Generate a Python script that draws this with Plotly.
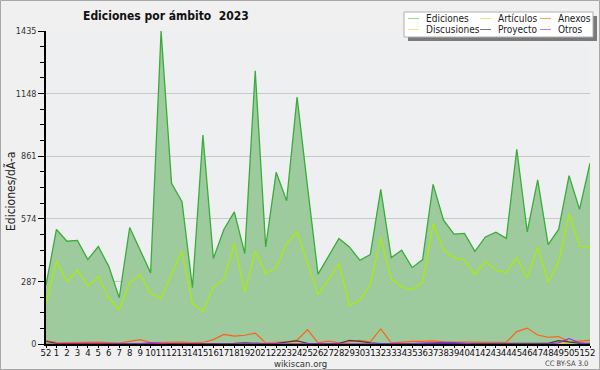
import plotly.graph_objects as go

weeks = ["52"] + [str(i) for i in range(1, 53)]

ediciones = [270, 525, 471, 475, 387, 447, 356, 212, 534, 430, 326, 1435, 737, 652, 258, 958,
             392, 525, 606, 415, 1253, 445, 787, 657, 1132, 720, 320, 402, 484, 445, 384, 410,
             709, 396, 430, 350, 387, 732, 568, 504, 507, 425, 491, 513, 484, 893, 514, 752,
             456, 525, 772, 617, 829]
articulos = [185, 380, 287, 338, 264, 310, 211, 157, 280, 318, 231, 208, 323, 425, 185, 150,
             261, 297, 461, 238, 425, 323, 350, 461, 514, 375, 226, 292, 369, 177, 200, 272,
             488, 300, 261, 249, 284, 550, 430, 395, 384, 318, 380, 338, 327, 396, 303, 445,
             284, 376, 596, 449, 443]
anexos = [15, 8, 6, 7, 10, 9, 6, 4, 12, 20, 6, 8, 10, 9, 6, 7,
          20, 44, 36, 40, 50, 5, 8, 10, 18, 66, 5, 13, 5, 10, 17, 10,
          69, 5, 10, 12, 12, 14, 10, 9, 8, 8, 8, 8, 8, 57, 73, 41,
          31, 34, 10, 14, 17]
discusiones = [3, 2, 2, 2, 2, 2, 2, 3, 2, 2, 2, 2, 2, 2, 2, 2,
               2, 2, 2, 2, 2, 2, 3, 6, 10, 3, 2, 2, 2, 2, 2, 2,
               2, 2, 2, 2, 2, 2, 2, 2, 2, 2, 2, 2, 2, 2, 2, 2,
               2, 3, 10, 3, 3]
proyecto = [12, 3, 2, 2, 3, 2, 2, 1, 2, 2, 1, 2, 2, 2, 2, 2,
            2, 2, 3, 5, 2, 2, 3, 8, 14, 3, 1, 2, 2, 17, 12, 5,
            2, 2, 2, 2, 2, 3, 3, 3, 2, 2, 2, 2, 5, 5, 2, 2,
            3, 15, 10, 3, 3]
otros = [0, 0, 0, 0, 0, 0, 0, 0, 0, 2, 5, 2, 0, 0, 0, 0,
         0, 0, 0, 0, 0, 0, 0, 0, 0, 0, 0, 0, 0, 0, 0, 0,
         0, 0, 0, 2, 4, 7, 7, 6, 2, 0, 0, 0, 0, 0, 0, 0,
         0, 5, 25, 5, 0]

y_ticks = [0, 287, 574, 861, 1148, 1435]

names = ["Ediciones", "Artículos", "Anexos", "Discusiones", "Proyecto", "Otros"]
colors = ["#3aac3a", "#aaee00", "#ff6018", "#ffc800", "#404040", "#8f2df0"]
legend_colors = ["#99d699", "#d4f07a", "#ff9966", "#ffe080", "#777777", "#b07ef0"]

x = list(range(len(weeks)))
FONT = "DejaVu Sans Condensed, DejaVu Sans, sans-serif"

fig = go.Figure()
fig.add_trace(go.Scatter(x=x, y=ediciones, mode="lines", fill="tozeroy",
                         fillcolor="#9dcb9d", line=dict(color=colors[0], width=1.3),
                         name=names[0], showlegend=False))
series = [articulos, anexos, discusiones, proyecto, otros]
for s, n, c in zip(series, names[1:], colors[1:]):
    fig.add_trace(go.Scatter(x=x, y=s, mode="lines", line=dict(color=c, width=1.2),
                             name=n, showlegend=False))

L, R, T, B = 46, 10, 31, 26
W, H = 600, 370
pw, ph = W - L - R, H - T - B


def px(xp):
    return (xp - L) / pw


def py(yp):
    return (H - B - yp) / ph


shapes = []
annotations = []
# outer border
shapes.append(dict(type="rect", xref="paper", yref="paper", x0=px(0.5), x1=px(599.5),
                   y0=py(369.5), y1=py(0.5), line=dict(color="#a8a8a8", width=1),
                   layer="below"))
# legend shadow and box
shapes.append(dict(type="rect", xref="paper", yref="paper", x0=px(408), x1=px(597),
                   y0=py(41), y1=py(16), fillcolor="#7a7a7a", line=dict(width=0)))
shapes.append(dict(type="rect", xref="paper", yref="paper", x0=px(404), x1=px(593),
                   y0=py(37), y1=py(12), fillcolor="#ffffff",
                   line=dict(color="#b0b0b0", width=1)))
cols = [(408, 424), (480, 496), (540, 556)]
rows = [18.5, 29.5]
order = [(0, 0, 0), (1, 0, 1), (2, 0, 2), (3, 1, 0), (4, 1, 1), (5, 1, 2)]
for idx, r, c in order:
    lx, tx = cols[c]
    yy = rows[r]
    shapes.append(dict(type="line", xref="paper", yref="paper", x0=px(lx), x1=px(lx + 11),
                       y0=py(yy), y1=py(yy), line=dict(color=legend_colors[idx], width=1)))
    annotations.append(dict(text=names[idx], xref="paper", yref="paper", x=px(tx), y=py(yy),
                            xanchor="left", yanchor="middle", showarrow=False,
                            font=dict(family=FONT, size=10, color="#222")))

annotations.append(dict(text="<b>Ediciones por ámbito  2023</b>", xref="paper", yref="paper",
                        x=px(166), y=py(16), xanchor="center", yanchor="middle",
                        showarrow=False, font=dict(family=FONT, size=12, color="#111")))
annotations.append(dict(text="wikiscan.org", xref="paper", yref="paper", x=px(300), y=py(363),
                        xanchor="center", yanchor="middle", showarrow=False,
                        font=dict(family=FONT, size=9.5, color="#333")))
annotations.append(dict(text="CC BY-SA 3.0", xref="paper", yref="paper", x=px(590), y=py(363),
                        xanchor="right", yanchor="middle", showarrow=False,
                        font=dict(family=FONT, size=7.5, color="#444")))
annotations.append(dict(text="Ediciones/dÃ-a", xref="paper", yref="paper", x=px(10), y=py(192),
                        xanchor="center", yanchor="middle", textangle=-90, showarrow=False,
                        font=dict(family=FONT, size=12, color="#222")))

fig.update_layout(
    width=W, height=H,
    margin=dict(l=L, r=R, t=T, b=B),
    paper_bgcolor="#f0f0f0",
    plot_bgcolor="#eeeff1",
    shapes=shapes,
    annotations=annotations,
    showlegend=False,
    xaxis=dict(range=[0, len(weeks) - 1], tickmode="array", tickvals=x, ticktext=weeks,
               showgrid=False, zeroline=False, showline=True, linecolor="#000", linewidth=1.5,
               ticks="outside", ticklen=2, tickcolor="#000", ticklabelstandoff=-3,
               tickfont=dict(family=FONT, size=9.5, color="#111"), tickangle=0, automargin=False),
    yaxis=dict(range=[0, 1435], tickmode="array", tickvals=y_ticks,
               ticktext=[str(v) for v in y_ticks],
               showgrid=True, gridcolor="#c8c8c8", gridwidth=1, zeroline=False,
               showline=True, linecolor="#000", linewidth=1.5,
               ticks="outside", ticklen=6, tickcolor="#000",
               minor=dict(tickmode="array", tickvals=[71.75 * i for i in range(21)],
                          ticks="outside", ticklen=4, tickcolor="#000", showgrid=False),
               tickfont=dict(family=FONT, size=9, color="#333"), automargin=False),
)

fig.write_html("out.html", config={"displayModeBar": False},
               post_script="document.body.style.margin='0';")
